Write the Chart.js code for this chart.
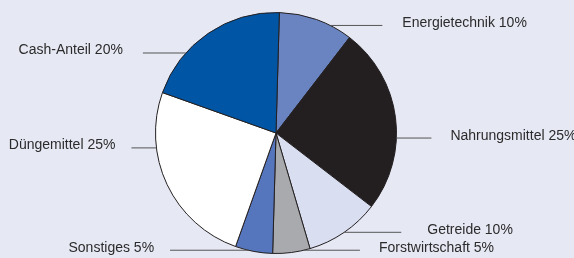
<!DOCTYPE html>
<html>
<head>
<meta charset="utf-8">
<script src="https://cdn.jsdelivr.net/npm/chart.js@4"></script>
<style>
  html, body { margin: 0; padding: 0; background: #e6e8f4; }
  #wrap { width: 574px; height: 258px; position: relative; }
</style>
</head>
<body>
<div id="wrap"><canvas id="pie"></canvas></div>
<script>
const labels = ["Energietechnik", "Nahrungsmittel", "Getreide", "Forstwirtschaft", "Sonstiges", "Düngemittel", "Cash-Anteil"];
const shares = [10, 25, 10, 5, 5, 25, 20];
const colors = ["#6a84c2", "#231f20", "#d9def0", "#a9aaad", "#5575bd", "#ffffff", "#0055a4"];

// where each leader line touches the pie (deg clockwise from top), line length, side
const leaderAngle = [26.8, 92.4, 145.5, 166.6, 193.4, 262.9, 311.6];
const leaderLen = [52, 35, 57, 56, 78, 25, 43];
const leaderGap = [20, 19, 26, 19, 16, 16, 20];

const leaders = {
    id: 'leaders',
    afterDatasetsDraw(chart) {
        const ctx = chart.ctx;
        const arc = chart.getDatasetMeta(0).data[0];
        const cx = arc.x, cy = arc.y, r = arc.outerRadius;
        ctx.save();
        ctx.font = '14px "Liberation Sans", Arial, sans-serif';
        ctx.textBaseline = 'alphabetic';
        labels.forEach((lab, i) => {
            const a = leaderAngle[i] * Math.PI / 180;
            const px = cx + r * Math.sin(a), py = cy - r * Math.cos(a);
            const right = leaderAngle[i] < 180;
            const ex = right ? px + leaderLen[i] : px - leaderLen[i];
            ctx.strokeStyle = '#555555';
            ctx.lineWidth = 1;
            ctx.beginPath();
            ctx.moveTo(px, py);
            ctx.lineTo(ex, py);
            ctx.stroke();
            ctx.fillStyle = '#2b2b2b';
            ctx.textAlign = right ? 'left' : 'right';
            const tx = right ? ex + leaderGap[i] : ex - leaderGap[i];
            ctx.fillText(lab + ' ' + shares[i] + '%', tx, py + 1.5);
        });
        ctx.restore();
    }
};

new Chart(document.getElementById('pie'), {
    type: 'pie',
    data: {
        labels: labels,
        datasets: [{
            data: shares,
            backgroundColor: colors,
            borderColor: '#231f20',
            borderWidth: 1
        }]
    },
    options: {
        responsive: true,
        maintainAspectRatio: false,
        animation: false,
        rotation: 1.6,
        layout: { padding: { top: 12, bottom: 4, left: 155, right: 177 } },
        plugins: { legend: { display: false }, tooltip: { enabled: false } }
    },
    plugins: [leaders]
});
</script>
</body>
</html>
